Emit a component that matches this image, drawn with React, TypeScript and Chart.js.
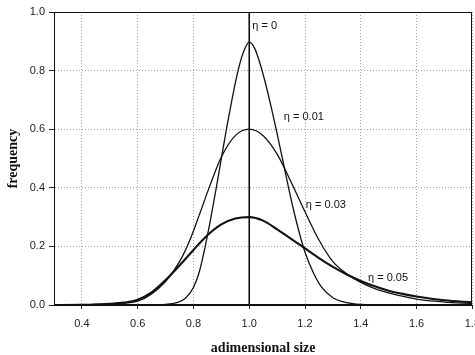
import React, { useEffect, useRef } from 'react';
import { Chart, registerables } from 'chart.js';

Chart.register(...registerables);

const xTicks = [0.4, 0.6, 0.8, 1.0, 1.2, 1.4, 1.6, 1.8];
const yTicks = [0, 0.2, 0.4, 0.6, 0.8, 1.0];

// eta = 0 : delta (vertical line)
const eta0X = [1.0, 1.0];
const eta0Y = [0, 1.0];

// eta = 0.01
const eta001X = [0.3, 0.6, 0.66, 0.7, 0.74, 0.77, 0.8, 0.82, 0.84, 0.86, 0.88, 0.9, 0.92, 0.94, 0.96, 0.98, 1.0, 1.02, 1.04, 1.06, 1.08, 1.1, 1.12, 1.14, 1.16, 1.18, 1.2, 1.23, 1.26, 1.3, 1.35, 1.4, 1.5, 1.8];
const eta001Y = [0, 0, 0.0005, 0.002, 0.008, 0.022, 0.06, 0.11, 0.19, 0.285, 0.39, 0.5, 0.61, 0.71, 0.8, 0.865, 0.897, 0.875, 0.82, 0.75, 0.67, 0.585, 0.495, 0.405, 0.32, 0.245, 0.18, 0.11, 0.06, 0.025, 0.008, 0.002, 0, 0];

// eta = 0.03
const eta003X = [0.3, 0.45, 0.5, 0.55, 0.6, 0.65, 0.7, 0.73, 0.76, 0.79, 0.82, 0.86, 0.9, 0.95, 1.0, 1.05, 1.1, 1.15, 1.2, 1.25, 1.3, 1.35, 1.4, 1.45, 1.5, 1.6, 1.7, 1.8];
const eta003Y = [0, 0.001, 0.003, 0.006, 0.013, 0.038, 0.08, 0.118, 0.165, 0.228, 0.305, 0.41, 0.505, 0.578, 0.6, 0.578, 0.515, 0.42, 0.318, 0.222, 0.148, 0.106, 0.077, 0.056, 0.041, 0.02, 0.01, 0.005];

// eta = 0.05
const eta005X = [0.3, 0.4, 0.45, 0.5, 0.55, 0.6, 0.65, 0.7, 0.75, 0.8, 0.85, 0.9, 0.95, 1.0, 1.05, 1.1, 1.15, 1.2, 1.25, 1.3, 1.35, 1.4, 1.45, 1.5, 1.55, 1.6, 1.7, 1.8];
const eta005Y = [0, 0.0005, 0.002, 0.004, 0.008, 0.018, 0.043, 0.085, 0.135, 0.188, 0.238, 0.275, 0.295, 0.3, 0.288, 0.258, 0.226, 0.193, 0.16, 0.13, 0.104, 0.082, 0.064, 0.049, 0.038, 0.029, 0.016, 0.009];

const labelTexts = ['η = 0', 'η = 0.01', 'η = 0.03', 'η = 0.05'];
const labelX = [1.011, 1.124, 1.203, 1.426];
const labelY = [0.954, 0.643, 0.343, 0.092];

const toPts = (xs: number[], ys: number[]) => xs.map((x, i) => ({ x, y: ys[i] }));

const overlay = {
  id: 'overlay',
  afterDatasetsDraw(chart: any) {
    const { ctx, chartArea: a, scales } = chart;
    const x = scales.x;
    const y = scales.y;
    ctx.save();
    ctx.strokeStyle = '#111';
    ctx.lineWidth = 1;
    ctx.setLineDash([]);
    ctx.strokeRect(Math.round(a.left) + 0.5, Math.round(a.top) + 0.5, Math.round(a.right - a.left) - 1, Math.round(a.bottom - a.top) - 1);
    ctx.font = '11px "Liberation Sans", Arial, sans-serif';
    ctx.fillStyle = '#111';
    ctx.textBaseline = 'middle';
    ctx.textAlign = 'left';
    labelTexts.forEach((t, i) => {
      ctx.fillText(t, x.getPixelForValue(labelX[i]), y.getPixelForValue(labelY[i]));
    });
    ctx.restore();
  },
};

export default function App() {
  const ref = useRef<HTMLCanvasElement>(null);
  useEffect(() => {
    if (!ref.current) return;
    const lineColor = '#111';
    const chart = new Chart(ref.current, {
      type: 'line',
      data: {
        datasets: [
          { label: 'η = 0', data: toPts(eta0X, eta0Y), borderColor: lineColor, borderWidth: 1.6, tension: 0, pointRadius: 0 },
          { label: 'η = 0.01', data: toPts(eta001X, eta001Y), borderColor: lineColor, borderWidth: 1.3, cubicInterpolationMode: 'monotone', pointRadius: 0 },
          { label: 'η = 0.03', data: toPts(eta003X, eta003Y), borderColor: lineColor, borderWidth: 1.3, cubicInterpolationMode: 'monotone', pointRadius: 0 },
          { label: 'η = 0.05', data: toPts(eta005X, eta005Y), borderColor: lineColor, borderWidth: 2.1, cubicInterpolationMode: 'monotone', pointRadius: 0 },
        ] as any,
      },
      options: {
        responsive: false,
        animation: false,
        events: [],
        layout: { padding: { top: 12, left: 0, right: 0, bottom: 0 } },
        plugins: { legend: { display: false }, tooltip: { enabled: false } },
        scales: {
          x: {
            type: 'linear',
            min: 0.3,
            max: 1.8,
            afterBuildTicks: (s: any) => { s.ticks = xTicks.map((v) => ({ value: v })); },
            afterFit: (s: any) => { s.height = 50; },
            ticks: {
              callback: (v: any) => Number(v).toFixed(1),
              font: { family: '"Liberation Sans", Arial, sans-serif', size: 11 },
              color: '#222',
              padding: 8,
              maxRotation: 0,
              autoSkip: false,
            },
            grid: { color: '#a0a0a0', tickBorderDash: [], tickColor: '#222', tickLength: 4, lineWidth: 1 } as any,
            border: { color: '#111', width: 1, dash: [1, 2] },
            title: {
              display: true,
              text: 'adimensional size',
              color: '#111',
              font: { family: '"Liberation Serif", "Times New Roman", serif', weight: 'bold', size: 14, lineHeight: 1 },
              padding: { top: 0, bottom: 0 },
            },
          },
          y: {
            type: 'linear',
            min: 0,
            max: 1,
            afterBuildTicks: (s: any) => { s.ticks = yTicks.map((v) => ({ value: v })); },
            afterFit: (s: any) => { s.width = 54; },
            ticks: {
              callback: (v: any) => Number(v).toFixed(1),
              font: { family: '"Liberation Sans", Arial, sans-serif', size: 11 },
              color: '#222',
              padding: 4,
            },
            grid: { color: '#a0a0a0', tickBorderDash: [], tickColor: '#222', tickLength: 5, lineWidth: 1 } as any,
            border: { color: '#111', width: 1, dash: [1, 2] },
            title: {
              display: true,
              text: 'frequency',
              color: '#111',
              font: { family: '"Liberation Serif", "Times New Roman", serif', weight: 'bold', size: 14, lineHeight: 1 },
              padding: { top: 6, bottom: 0 },
            },
          },
        },
      } as any,
      plugins: [overlay],
    });
    return () => chart.destroy();
  }, []);

  return (
    <div style={{ position: 'absolute', left: 0, top: 0, width: 475, height: 355, overflow: 'hidden', background: '#fff' }}>
      <canvas ref={ref} width={488} height={355} style={{ display: 'block', width: 488, height: 355 }} />
    </div>
  );
}
